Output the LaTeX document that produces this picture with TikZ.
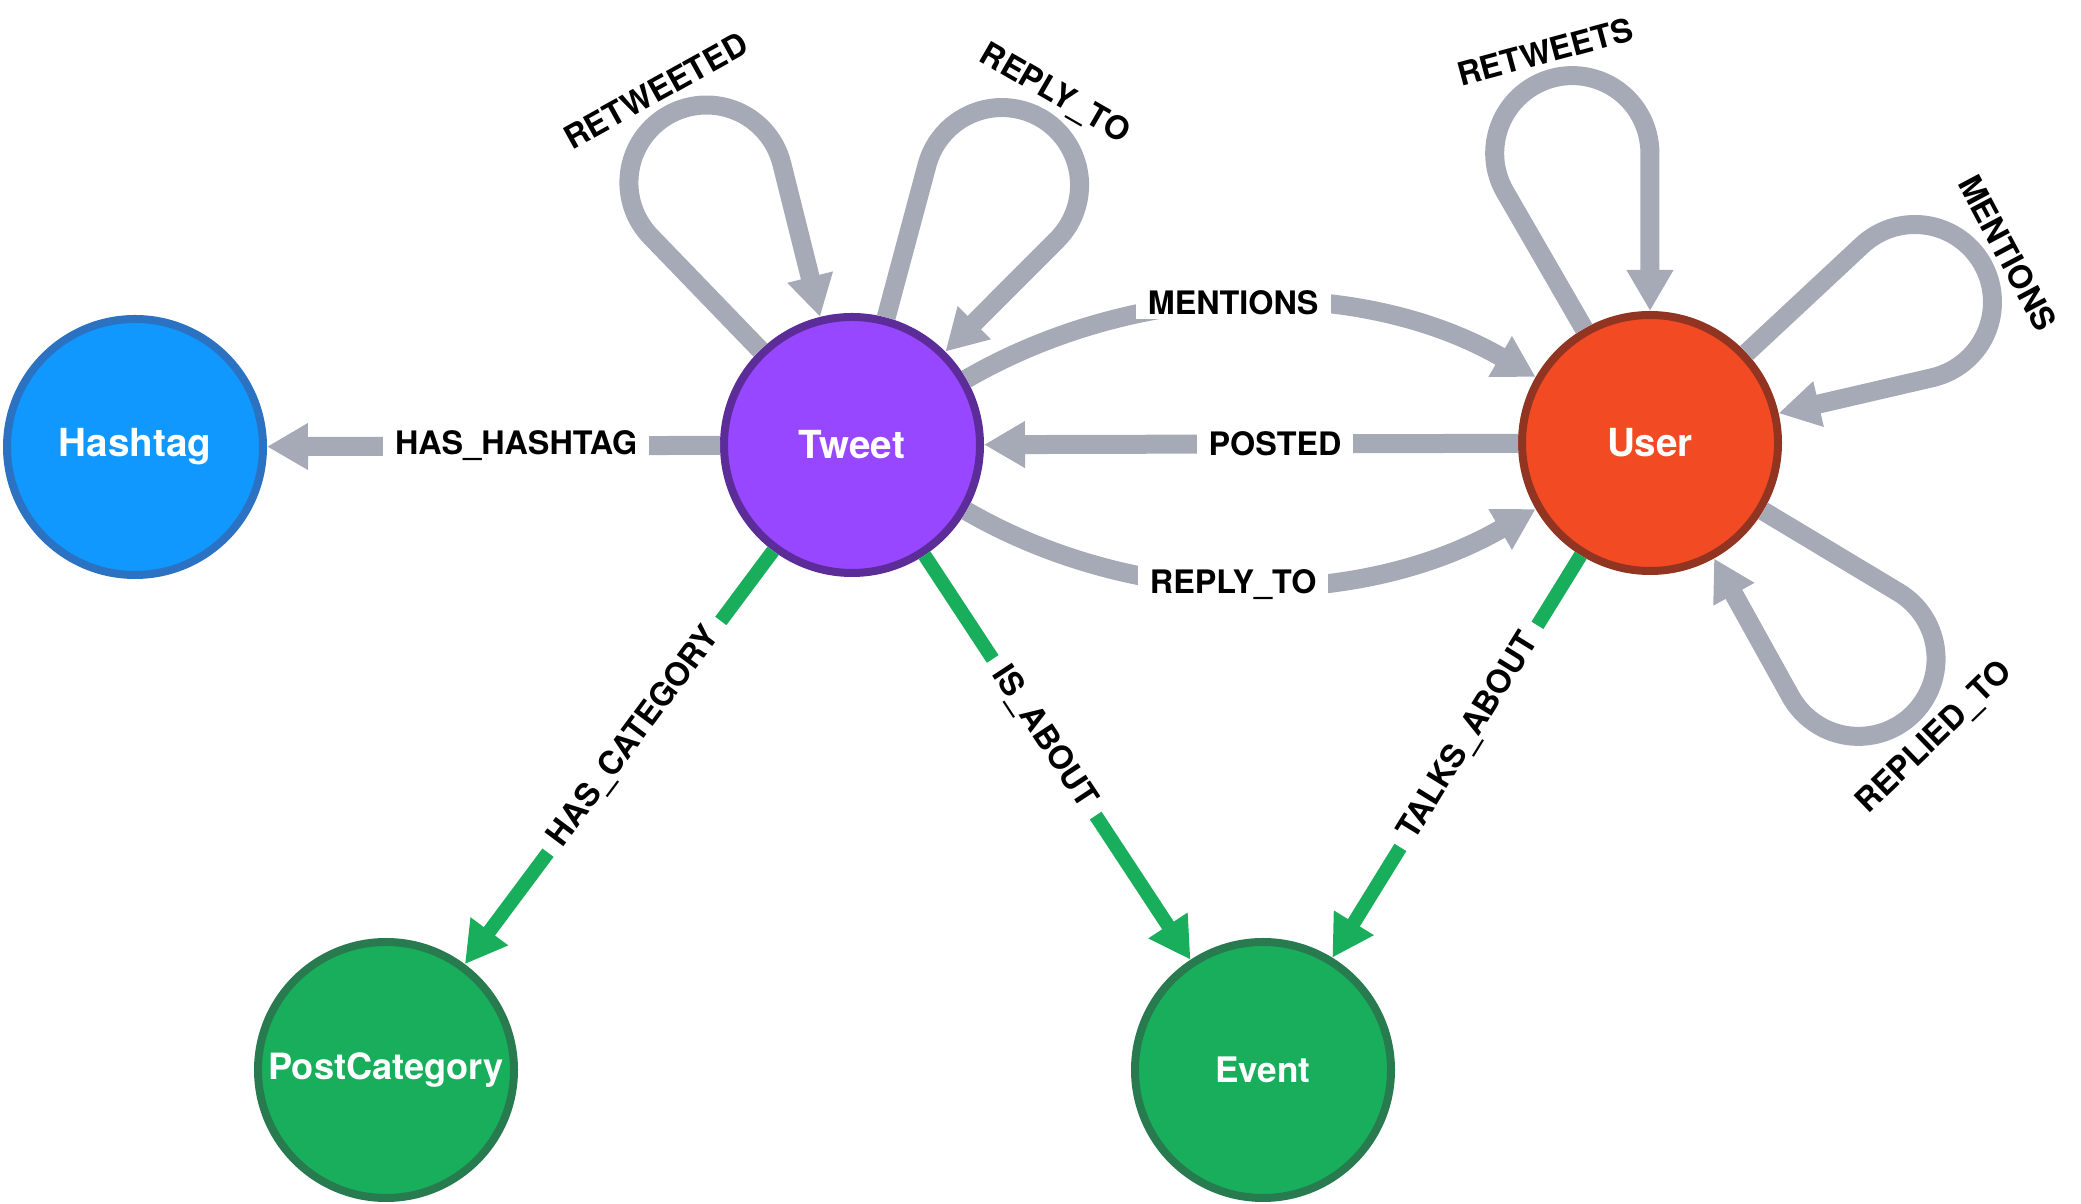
\documentclass[tikz,border=0pt]{standalone}
\usepackage{fontspec}
\setmainfont{TeX Gyre Heros}
\usetikzlibrary{arrows.meta}

\definecolor{edgegray}{RGB}{165,170,182}
\definecolor{edgegreen}{RGB}{24,174,92}
\definecolor{greenborder}{RGB}{39,123,78}
\definecolor{hashblue}{RGB}{16,152,255}
\definecolor{hashborder}{RGB}{44,114,194}
\definecolor{tweetpurple}{RGB}{151,71,255}
\definecolor{tweetborder}{RGB}{92,45,153}
\definecolor{userred}{RGB}{242,74,34}
\definecolor{userborder}{RGB}{145,52,34}

\begin{document}
\begin{tikzpicture}[
  entity/.style={circle, minimum size=2.56cm, inner sep=0pt, line width=0.08cm, text=white, font=\bfseries\fontsize{11}{13}\selectfont},
  grayedge/.style={draw=edgegray, line width=0.19cm, -{Triangle[length=0.41cm,width=0.44cm]}},
  greenedge/.style={draw=edgegreen, line width=0.14cm, -{Triangle[length=0.41cm,width=0.44cm]}},
  elabel/.style={fill=white, inner xsep=0.12cm, inner ysep=0.04cm, text=black, font=\bfseries\fontsize{9.2}{11}\selectfont},
  looplabel/.style={inner sep=0pt, text=black, font=\bfseries\fontsize{9.2}{11}\selectfont}
]
\useasboundingbox (0,0) rectangle (20.81,12.04);

% nodes
\node[entity, fill=hashblue, draw=hashborder] (Hashtag) at (1.35,7.57) {Hashtag};
\node[entity, fill=tweetpurple, draw=tweetborder] (Tweet) at (8.52,7.59) {Tweet};
\node[entity, fill=userred, draw=userborder] (User) at (16.50,7.61) {User};
\node[entity, fill=edgegreen, draw=greenborder, font=\bfseries\fontsize{10.3}{12}\selectfont] (PostCategory) at (3.86,1.34) {PostCategory};
\node[entity, fill=edgegreen, draw=greenborder, font=\bfseries\fontsize{10}{12}\selectfont] (Event) at (12.63,1.34) {Event};

% edges between nodes
\draw[grayedge] (Tweet) -- node[elabel, pos=0.45] {HAS\_HASHTAG} (Hashtag);
\draw[grayedge] (User) -- node[elabel, pos=0.455] {POSTED} (Tweet);
\draw[grayedge] (Tweet.30) to[out=30, in=150, looseness=0.9] node[elabel, pos=0.47] {MENTIONS} (User.150);
\draw[grayedge] (Tweet.-30) to[out=-30, in=-150, looseness=0.9] node[elabel, pos=0.47] {REPLY\_TO} (User.-150);

\draw[greenedge] (Tweet) -- node[elabel, sloped, pos=0.45] {HAS\_CATEGORY} (PostCategory);
\draw[greenedge] (Tweet) -- node[elabel, sloped, pos=0.45] {IS\_ABOUT} (Event);
\draw[greenedge] (User) -- node[elabel, sloped, pos=0.45] {TALKS\_ABOUT} (Event);

% self loops
\draw[grayedge] (Tweet.134) -- ++(134:1.578) arc[start angle=224, delta angle=-210, radius=0.776] -- (Tweet.104);
\path (Tweet.center) ++(119:4.05) node[looplabel, rotate=29] {RETWEETED};
\draw[grayedge] (Tweet.75) -- ++(75:1.578) arc[start angle=165, delta angle=-210, radius=0.776] -- (Tweet.45);
\path (Tweet.center) ++(60:4.05) node[looplabel, rotate=-30] {REPLY\_TO};

\draw[grayedge] (User.120) -- ++(120:1.578) arc[start angle=210, delta angle=-210, radius=0.776] -- (User.90);
\path (User.center) ++(105:4.05) node[looplabel, rotate=15] {RETWEETS};
\draw[grayedge] (User.43) -- ++(43:1.578) arc[start angle=133, delta angle=-210, radius=0.776] -- (User.13);
\path (User.center) ++(28:4.05) node[looplabel, rotate=-62] {MENTIONS};
\draw[grayedge] (User.-31) -- ++(-31:1.578) arc[start angle=59, delta angle=-210, radius=0.776] -- (User.-61);
\path (User.center) ++(-46:4.1) node[looplabel, rotate=44] {REPLIED\_TO};

\end{tikzpicture}
\end{document}
